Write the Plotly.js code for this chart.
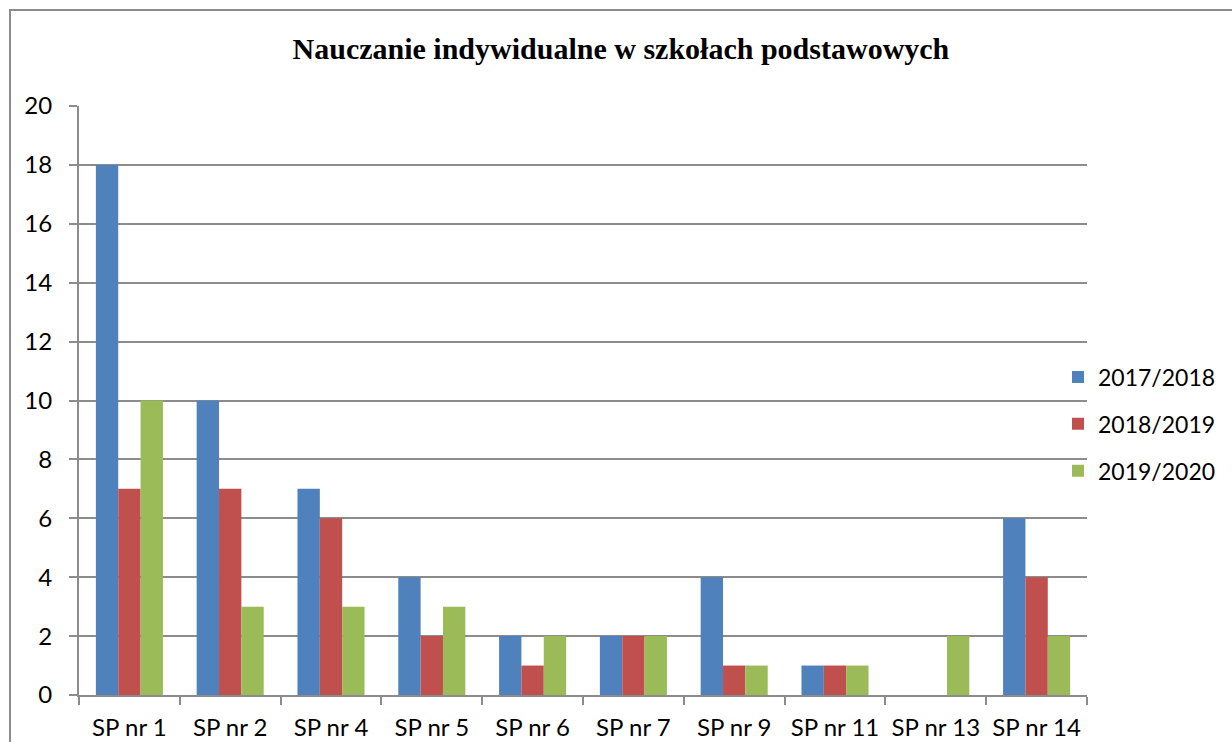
<!DOCTYPE html>
<html>
<head>
<meta charset="utf-8">
<script src="https://cdn.plot.ly/plotly-3.0.1.min.js"></script>
<style>
html,body{margin:0;padding:0;background:#fff;}
#wrap{position:relative;width:1232px;height:742px;overflow:hidden;}
#chart{width:1232px;height:742px;}
#frame{position:absolute;left:9px;top:9px;width:1300px;height:800px;border-left:2px solid #8c8c8c;border-top:2px solid #8c8c8c;pointer-events:none;}
</style>
</head>
<body>
<div id="wrap"><div id="chart"></div><div id="frame"></div></div>
<script>
const categories = ["SP nr 1","SP nr 2","SP nr 4","SP nr 5","SP nr 6","SP nr 7","SP nr 9","SP nr 11","SP nr 13","SP nr 14"];
const seriesNames = ["2017/2018","2018/2019","2019/2020"];
const values2017 = [18,10,7,4,2,2,4,1,0,6];
const values2018 = [7,7,6,2,1,2,1,1,0,4];
const values2019 = [10,3,3,3,2,2,1,1,2,2];
const colors = ["#4F81BD","#C0504D","#9BBB59"];
const yTicks = [0,2,4,6,8,10,12,14,16,18,20];

const allValues = [values2017, values2018, values2019];
const traces = allValues.map((v,i)=>({
  type:"bar", x:categories, y:v, name:seriesNames[i], legendgroup:"g"+i,
  marker:{color:colors[i], line:{width:0}}
}));

const font = {family:"Lato, 'Open Sans', sans-serif", size:24, color:"#000"};
const legendFont = {family:"Lato, 'Open Sans', sans-serif", size:23, color:"#000"};
const layout = {
  width:1232, height:742,
  margin:{l:79, r:145, t:106, b:47, autoexpand:false},
  paper_bgcolor:"#fff", plot_bgcolor:"#fff",
  barmode:"group", bargap:0.335, bargroupgap:0,
  font:font,
  title:{text:"<b>Nauczanie indywidualne w szkołach podstawowych</b>",
    font:{family:"'Liberation Serif', 'Times New Roman', serif", size:30, color:"#000"},
    x:0.504, xref:"container", xanchor:"center", y:0.935, yref:"container", yanchor:"middle"},
  xaxis:{type:"category", showgrid:false, showline:true, linecolor:"#8c8c8c", linewidth:2,
    ticks:"outside", tickson:"boundaries", ticklen:8, tickcolor:"#8c8c8c", tickwidth:2,
    tickfont:font, tickangle:0, ticklabelstandoff:10, automargin:false},
  yaxis:{range:[0,20], tickvals:yTicks, showgrid:true, gridcolor:"#8c8c8c", gridwidth:2,
    showline:true, linecolor:"#8c8c8c", linewidth:2, ticks:"outside", ticklen:8,
    tickcolor:"#8c8c8c", tickwidth:2, tickfont:font, ticklabelstandoff:12, zeroline:false, automargin:false},
  legend:{x:1058/1232, xref:"container", xanchor:"left", y:1-424/742, yref:"container", yanchor:"middle", font:legendFont,
    itemwidth:30, tracegroupgap:14, bgcolor:"rgba(0,0,0,0)"},
  showlegend:true
};
Plotly.newPlot("chart", traces, layout, {displayModeBar:false, staticPlot:true});
</script>
</body>
</html>
